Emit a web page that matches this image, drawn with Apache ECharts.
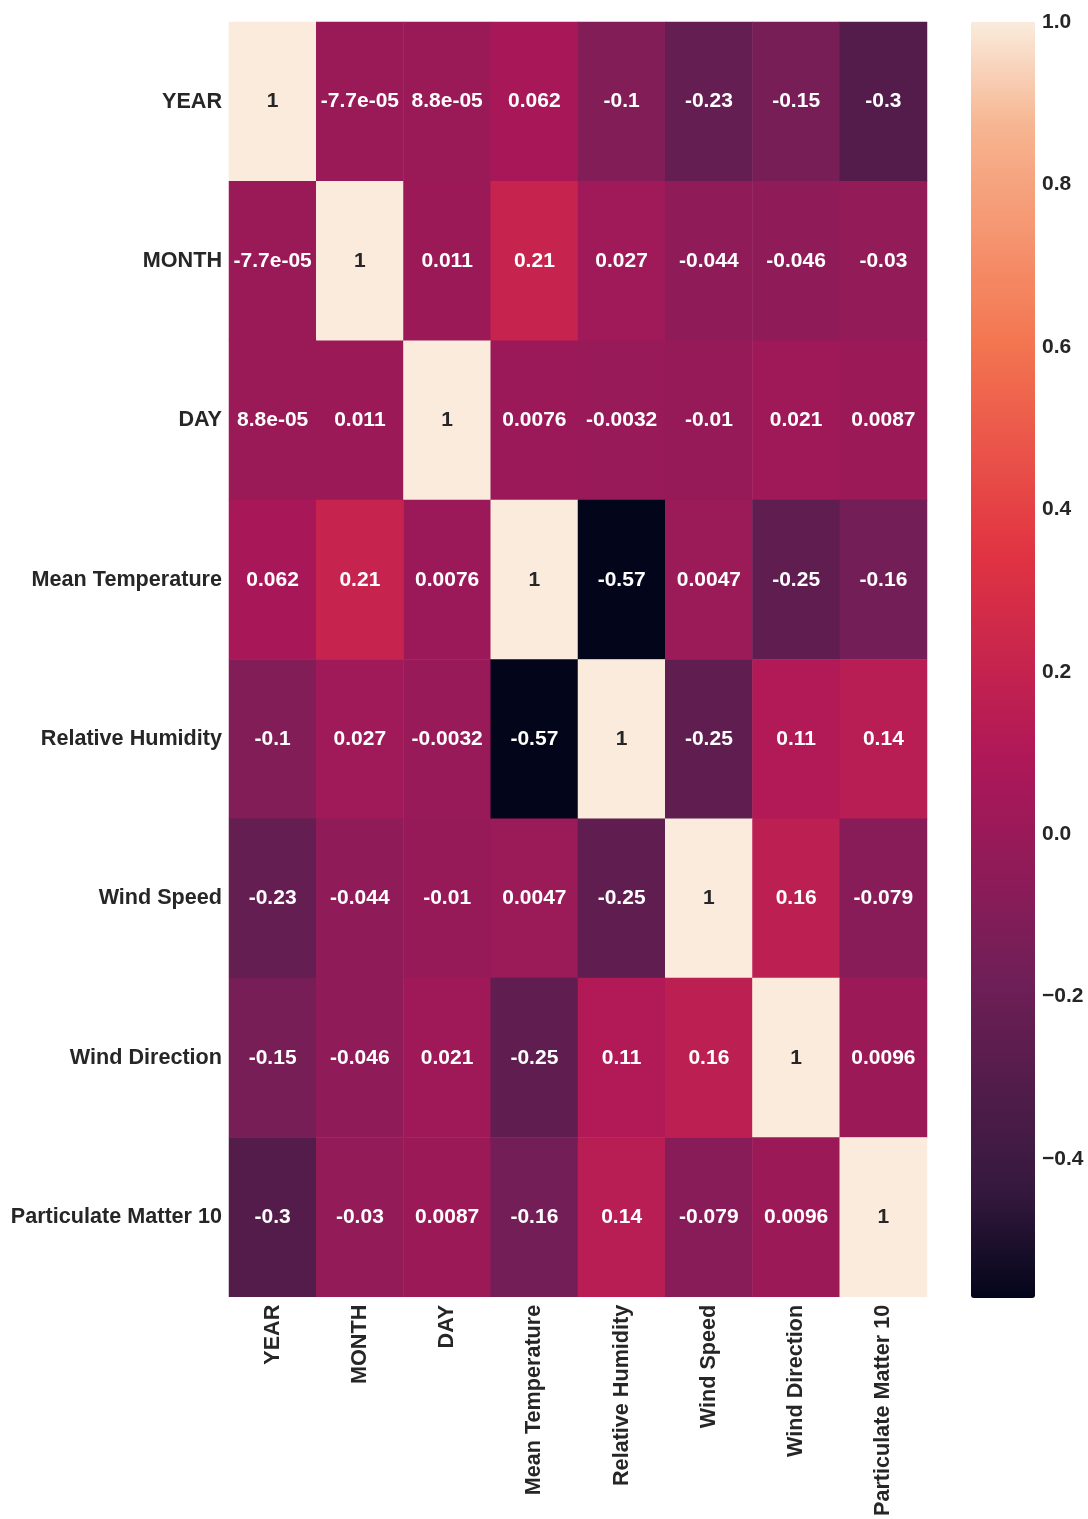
<!DOCTYPE html>
<html>
<head>
<meta charset="utf-8">
<script src="https://cdn.jsdelivr.net/npm/echarts@6/dist/echarts.min.js"></script>
<style>
  html, body { margin: 0; padding: 0; background: #fff; }
  #chart { width: 1088px; height: 1519px; }
</style>
</head>
<body>
<div id="chart"></div>
<script>
// Variables in the correlation matrix (same order on both axes)
const variables = [
  'YEAR', 'MONTH', 'DAY', 'Mean Temperature', 'Relative Humidity',
  'Wind Speed', 'Wind Direction', 'Particulate Matter 10'
];

// Correlation coefficients, one row per variable
const rowYear  = [1, -7.7e-05, 8.8e-05, 0.062, -0.1, -0.23, -0.15, -0.3];
const rowMonth = [-7.7e-05, 1, 0.011, 0.21, 0.027, -0.044, -0.046, -0.03];
const rowDay   = [8.8e-05, 0.011, 1, 0.0076, -0.0032, -0.01, 0.021, 0.0087];
const rowTemp  = [0.062, 0.21, 0.0076, 1, -0.57, 0.0047, -0.25, -0.16];
const rowHum   = [-0.1, 0.027, -0.0032, -0.57, 1, -0.25, 0.11, 0.14];
const rowWSpd  = [-0.23, -0.044, -0.01, 0.0047, -0.25, 1, 0.16, -0.079];
const rowWDir  = [-0.15, -0.046, 0.021, -0.25, 0.11, 0.16, 1, 0.0096];
const rowPM10  = [-0.3, -0.03, 0.0087, -0.16, 0.14, -0.079, 0.0096, 1];
const matrixRows = [rowYear, rowMonth, rowDay, rowTemp, rowHum, rowWSpd, rowWDir, rowPM10];

// Colour scale range and colour bar tick labels
const scaleMin = -0.571;
const scaleMax = 1.0;
const colorbarTicks = [-0.4, -0.2, 0.0, 0.2, 0.4, 0.6, 0.8, 1.0];

// "rocket" colour map anchors: [position, hex]
const rocketAnchors = [
  [0.000, '#03051A'], [0.083, '#35193E'], [0.250, '#701F57'],
  [0.417, '#AD1759'], [0.583, '#E13342'], [0.750, '#F37651'],
  [0.917, '#F6B48F'], [1.000, '#FAEBDD']
];

function hexToRgb(h) {
  return [parseInt(h.slice(1, 3), 16), parseInt(h.slice(3, 5), 16), parseInt(h.slice(5, 7), 16)];
}
function rocketAt(t) {
  for (let k = 1; k < rocketAnchors.length; k++) {
    const [p1, c1] = rocketAnchors[k - 1];
    const [p2, c2] = rocketAnchors[k];
    if (t <= p2) {
      const f = (t - p1) / (p2 - p1);
      const a = hexToRgb(c1), b = hexToRgb(c2);
      const c = a.map((v, i) => Math.round(v + (b[i] - v) * f));
      return 'rgb(' + c.join(',') + ')';
    }
  }
  return rocketAnchors[rocketAnchors.length - 1][1];
}
// Evenly spaced ramp for the visual map
const rampSteps = 64;
const rocketRamp = [];
for (let i = 0; i <= rampSteps; i++) rocketRamp.push(rocketAt(i / rampSteps));

// Python-style '.2g' formatting for the cell annotations
function fmt2g(v) {
  if (v !== 0 && Math.abs(v) < 1e-4) {
    let s = v.toExponential(1);
    return s.replace(/e([+-])(\d)$/, 'e$10$2');
  }
  return String(Number(v.toPrecision(2)));
}

const textColor = '#262626';
const fontFamily = "'Liberation Sans', Arial, sans-serif";

const cells = [];
matrixRows.forEach((row, r) => {
  row.forEach((v, c) => {
    cells.push({
      value: [c, r, v],
      label: { color: v > 0.6 ? textColor : '#ffffff' }
    });
  });
});

const chart = echarts.init(document.getElementById('chart'), null, { renderer: 'canvas' });
chart.setOption({
  backgroundColor: '#ffffff',
  animation: false,
  textStyle: { fontFamily: fontFamily },
  grid: [
    { left: 229, top: 22, width: 698, height: 1276 },
    { left: 971, top: 22, width: 64, height: 1276 }
  ],
  xAxis: [
    {
      type: 'category', gridIndex: 0, data: variables, position: 'bottom',
      axisLine: { show: false }, axisTick: { show: false }, splitLine: { show: false },
      axisLabel: {
        rotate: 90, margin: 8, fontSize: 21.6, fontWeight: 'bold',
        color: textColor, fontFamily: fontFamily, interval: 0
      }
    },
    { type: 'value', gridIndex: 1, show: false, min: 0, max: 1 }
  ],
  yAxis: [
    {
      type: 'category', gridIndex: 0, data: variables, inverse: true,
      axisLine: { show: false }, axisTick: { show: false }, splitLine: { show: false },
      axisLabel: {
        margin: 7, fontSize: 21.6, fontWeight: 'bold',
        color: textColor, fontFamily: fontFamily, interval: 0
      }
    },
    {
      type: 'value', gridIndex: 1, position: 'right', min: scaleMin, max: scaleMax,
      axisLine: { show: false }, axisTick: { show: false }, splitLine: { show: false },
      axisLabel: {
        customValues: colorbarTicks, margin: 7, fontSize: 21, color: textColor,
        fontFamily: fontFamily, fontWeight: 'bold',
        formatter: v => v.toFixed(1).replace('-', '\u2212')
      }
    }
  ],
  visualMap: {
    type: 'continuous', min: scaleMin, max: scaleMax, dimension: 2, seriesIndex: 0,
    calculable: false, orient: 'vertical', left: 971, top: 22, padding: 0,
    itemWidth: 64, itemHeight: 1276, showLabel: false,
    inRange: { color: rocketRamp }
  },
  series: [{
    type: 'heatmap', xAxisIndex: 0, yAxisIndex: 0, data: cells,
    itemStyle: { borderWidth: 0 },
    label: {
      show: true, fontSize: 21, fontWeight: 'bold', fontFamily: fontFamily,
      formatter: p => fmt2g(p.value[2])
    },
    emphasis: { disabled: true }
  }]
});
</script>
</body>
</html>
